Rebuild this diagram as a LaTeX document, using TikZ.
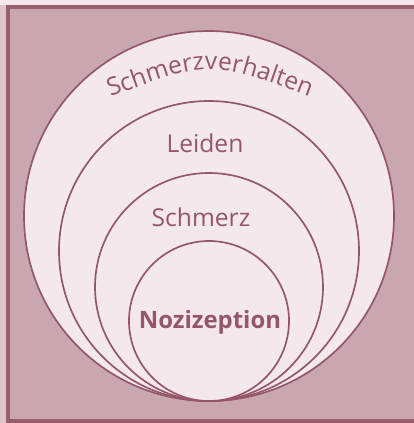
\documentclass[tikz,border=0pt]{standalone}
\usepackage{fontspec}
\setsansfont{Open Sans}
\usetikzlibrary{decorations.text}
\definecolor{stripfill}{RGB}{220,196,202}
\definecolor{framefill}{RGB}{201,167,176}
\definecolor{framedark}{RGB}{152,94,110}
\definecolor{ringfill}{RGB}{243,233,236}
\definecolor{inkmauve}{RGB}{150,86,106}

\begin{document}
\begin{tikzpicture}[x=0.025cm, y=-0.025cm,
    ring/.style={draw=inkmauve, fill=ringfill, line width=1.2pt},
    lbl/.style={text=inkmauve, font=\sffamily\fontsize{17.5}{20}\selectfont, inner sep=0pt},
    lblbold/.style={lbl, font=\sffamily\bfseries\fontsize{17}{20}\selectfont}
]
\useasboundingbox (0,0) rectangle (414,423);
\fill[stripfill] (0,0) rectangle (414,423);
\fill[ringfill] (0,0) rectangle (414,5);
\draw[framedark, fill=framefill, line width=3pt] (8,7) rectangle (425,421);
% nested rings, all touching at the bottom
\draw[ring] (209,216) circle[radius=185];
\draw[ring] (209,251) circle[radius=150];
\draw[ring] (209,287) circle[radius=114];
\draw[ring] (209,321) circle[radius=80];
% labels
\path[decorate, decoration={text along path, text align=center,
    text={|\sffamily\fontsize{17.5}{20}\selectfont\color{inkmauve}|Schmerzverhalten}}]
    (100,101) .. controls (210,59) .. (320,101);
\node[lbl] (leiden) at (205,143) {Leiden};
\node[lbl] (schmerz) at (201,217) {Schmerz};
\node[lblbold] (nozi) at (210,322) {Nozizeption};
\end{tikzpicture}
\end{document}
